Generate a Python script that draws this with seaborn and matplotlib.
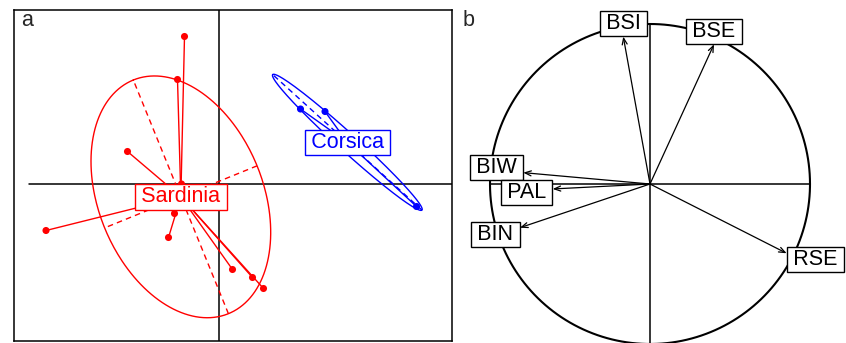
import numpy as np
import pandas as pd
import matplotlib
matplotlib.use("Agg")
import matplotlib.pyplot as plt
import seaborn as sns

# ---------------- data ----------------
# Panel a: individual scores per group
sardinia_x = [-0.69, -0.83, -1.83, -0.75, -3.46, -0.89, -1.01, 0.27, 0.67, 0.89]
sardinia_y = [2.95, 2.09, 0.65, 0.00, -0.93, -0.59, -1.07, -1.71, -1.87, -2.09]
corsica_x = [1.63, 2.12, 3.95]
corsica_y = [1.50, 1.45, -0.45]
groups = ["Sardinia", "Corsica"]
group_colors = ["#FF0000", "#0000FF"]

# Panel b: correlation circle
variables = ["BSI", "BSE", "BIW", "PAL", "BIN", "RSE"]
var_x = [-0.167, 0.40, -0.792, -0.608, -0.8125, 0.854]
var_y = [0.921, 0.873, 0.071, -0.031, -0.273, -0.433]
# small vertical nudges of the label boxes (points)
label_nudge = [0.0, 0.0, 3.5, -2.5, -5.0, -4.3]

panel_labels = ["a", "b"]

# ---------------- style ----------------
sns.set_style("white")
plt.rcParams["font.family"] = ["Liberation Sans", "DejaVu Sans"]
FS = 15.5
TS = "\u2009"

W, H = 846, 343
fig = plt.figure(figsize=(W / 100, H / 100), dpi=100)

# ---------------- panel a ----------------
ax1 = fig.add_axes([14 / W, (H - 341) / H, 438 / W, 331 / H])
df = pd.DataFrame({
    "x": sardinia_x + corsica_x,
    "y": sardinia_y + corsica_y,
    "group": [groups[0]] * len(sardinia_x) + [groups[1]] * len(corsica_x),
})
ax1.set_xlim(-4.10, 4.66)
ax1.set_ylim(-3.14, 3.48)
ax1.axhline(0, xmin=15 / 438, xmax=1, color="black", lw=1.1, zorder=1)
ax1.axvline(0, color="black", lw=1.1, zorder=1)

for g, col in zip(groups, group_colors):
    sub = df[df["group"] == g]
    x = sub["x"].to_numpy()
    y = sub["y"].to_numpy()
    mx, my = x.mean(), y.mean()
    # star
    for xi, yi in zip(x, y):
        ax1.plot([mx, xi], [my, yi], color=col, lw=1.0, zorder=2)
    # ellipse (cellipse = 1.5)
    cov = np.cov(np.vstack([x, y]), bias=True)
    vals, vecs = np.linalg.eigh(cov)
    a = 1.5 * np.sqrt(max(vals[1], 0))
    b = 1.5 * np.sqrt(max(vals[0], 0))
    v1, v0 = vecs[:, 1], vecs[:, 0]
    t = np.linspace(0, 2 * np.pi, 300)
    ex = mx + a * np.cos(t) * v1[0] + b * np.sin(t) * v0[0]
    ey = my + a * np.cos(t) * v1[1] + b * np.sin(t) * v0[1]
    ax1.plot(ex, ey, color=col, lw=1.0, zorder=2)
    ax1.plot([mx - a * v1[0], mx + a * v1[0]], [my - a * v1[1], my + a * v1[1]],
             color=col, lw=1.0, dashes=(4, 3), zorder=2)
    ax1.plot([mx - b * v0[0], mx + b * v0[0]], [my - b * v0[1], my + b * v0[1]],
             color=col, lw=1.0, dashes=(4, 3), zorder=2)
    ax1.text(mx, my, TS + g + TS, ha="center", va="center", color=col,
             fontsize=FS, zorder=6,
             bbox=dict(boxstyle="square,pad=0.1", fc="white", ec=col, lw=1.0))

sns.scatterplot(data=df, x="x", y="y", hue="group", hue_order=groups,
                palette=group_colors, s=26, edgecolor="none", legend=False,
                ax=ax1, zorder=4)
ax1.set_xlabel("")
ax1.set_ylabel("")
ax1.set_xticks([])
ax1.set_yticks([])
for sp in ax1.spines.values():
    sp.set_visible(True)
    sp.set_color("black")
    sp.set_linewidth(1.1)

# ---------------- panel b ----------------
ax2 = fig.add_axes([460 / W, 0, 386 / W, 1])
ax2.set_xlim(-190 / 160, 196 / 160)
ax2.set_ylim(-159 / 160, 184 / 160)
ax2.axis("off")
t = np.linspace(0, 2 * np.pi, 400)
ax2.plot(np.cos(t), np.sin(t), color="black", lw=1.5, zorder=1)
ax2.plot([-1, 1], [0, 0], color="black", lw=1.1, zorder=1)
ax2.plot([0, 0], [-1.2, 1], color="black", lw=1.1, zorder=1)

for name, xv, yv, nud in zip(variables, var_x, var_y, label_nudge):
    ax2.annotate("", xy=(xv, yv), xytext=(0, 0),
                 arrowprops=dict(arrowstyle="->,head_length=0.45,head_width=0.18",
                                 color="black", lw=0.9, shrinkA=0, shrinkB=0),
                 zorder=2)
    off = 1.8
    if xv > yv and xv > -yv:
        ha, va, dxy = "left", "center", (off, nud)
    elif xv > yv and xv <= -yv:
        ha, va, dxy = "center", "top", (0, -off)
    elif xv <= yv and xv <= -yv:
        ha, va, dxy = "right", "center", (-off, nud)
    else:
        ha, va, dxy = "center", "bottom", (0, off)
    ax2.annotate(TS + name + TS, xy=(xv, yv), xytext=dxy, textcoords="offset points",
                 ha=ha, va=va, fontsize=FS, color="black", zorder=5,
                 annotation_clip=False,
                 bbox=dict(boxstyle="square,pad=0.1", fc="white", ec="black", lw=1.0))

# panel letters
fig.text(27 / W, 1 - 21 / H, panel_labels[0], ha="center", va="center", fontsize=FS)
fig.text(469 / W, 1 - 20 / H, panel_labels[1], ha="center", va="center", fontsize=FS)

fig.savefig("out.png", dpi=100)
